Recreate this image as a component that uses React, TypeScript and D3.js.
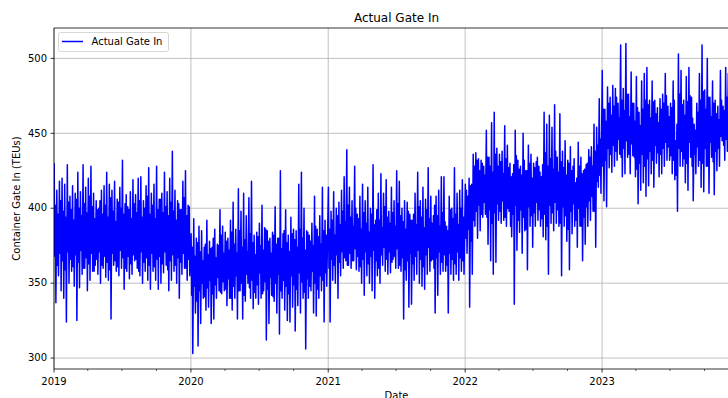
import React from 'react';
import * as d3 from 'd3';

// weekly values, one array per year (52 weeks each):
// spike high, spike low and the second-tier high / low inside the dense band
const years = [2019, 2020, 2021, 2022, 2023];

const highs2019 = [430, 412, 418, 420, 416, 429, 408, 415, 410, 424, 411, 429, 414, 420, 428, 410, 405, 400, 412, 415, 424, 416, 412, 418, 406, 414, 432, 403, 401, 411, 419, 409, 420, 421, 405, 415, 427, 410, 416, 428, 406, 410, 424, 411, 420, 438, 412, 405, 399, 418, 425, 402];
const lows2019 = [337, 355, 345, 340, 324, 350, 358, 348, 325, 347, 356, 360, 345, 352, 358, 362, 356, 350, 360, 354, 352, 326, 362, 358, 355, 360, 346, 358, 353, 356, 365, 360, 355, 350, 358, 352, 346, 358, 352, 346, 350, 357, 362, 345, 352, 358, 350, 340, 356, 360, 352, 355];
const midHi2019 = [402, 396, 405, 398, 394, 404, 399, 392, 406, 400, 395, 403, 397, 408, 401, 393, 399, 405, 396, 402, 394, 407, 398, 391, 404, 400, 396, 409, 399, 393, 403, 397, 405, 394, 400, 408, 396, 402, 393, 399, 406, 397, 401, 395, 404, 398, 392, 403, 399, 407, 395, 401];
const midLo2019 = [368, 362, 370, 365, 359, 371, 366, 361, 369, 364, 372, 360, 367, 363, 370, 358, 366, 371, 362, 368, 364, 359, 370, 365, 361, 372, 367, 360, 368, 363, 369, 366, 358, 371, 364, 367, 362, 370, 361, 366, 368, 363, 371, 359, 365, 369, 362, 367, 364, 370, 360, 366];

const highs2020 = [383, 393, 380, 388, 385, 374, 392, 378, 374, 386, 376, 399, 388, 384, 380, 392, 404, 386, 413, 398, 410, 395, 407, 418, 382, 384, 390, 402, 387, 385, 380, 384, 401, 380, 425, 383, 399, 382, 394, 386, 385, 416, 424, 400, 385, 382, 390, 408, 386, 395, 414, 392];
const lows2020 = [303, 330, 308, 323, 340, 332, 334, 323, 326, 340, 345, 343, 345, 335, 340, 332, 340, 326, 345, 326, 338, 350, 340, 333, 340, 336, 340, 345, 312, 323, 342, 338, 330, 316, 340, 332, 325, 324, 334, 318, 335, 330, 340, 306, 340, 345, 330, 328, 340, 345, 324, 348];
const midHi2020 = [374, 368, 377, 371, 365, 376, 369, 373, 380, 367, 375, 382, 370, 378, 372, 384, 376, 370, 385, 374, 379, 371, 383, 377, 369, 381, 375, 372, 386, 378, 370, 382, 376, 380, 373, 385, 377, 371, 383, 379, 374, 386, 380, 372, 384, 378, 375, 388, 381, 376, 385, 382];
const midLo2020 = [342, 348, 338, 345, 350, 341, 347, 352, 343, 349, 354, 344, 351, 346, 353, 340, 348, 355, 345, 350, 342, 356, 347, 352, 344, 349, 357, 343, 351, 346, 354, 341, 350, 356, 345, 352, 348, 343, 355, 349, 346, 357, 351, 344, 353, 348, 358, 350, 346, 355, 352, 357];

const highs2021 = [414, 398, 411, 400, 404, 412, 421, 439, 414, 405, 428, 396, 408, 416, 405, 414, 400, 429, 392, 410, 423, 410, 419, 398, 414, 405, 425, 418, 400, 405, 404, 396, 392, 410, 424, 405, 414, 406, 427, 408, 395, 408, 412, 421, 421, 388, 408, 400, 427, 410, 412, 419];
const lows2021 = [324, 352, 350, 340, 355, 360, 365, 362, 360, 365, 359, 358, 350, 342, 355, 350, 345, 340, 355, 350, 362, 358, 356, 357, 366, 360, 360, 358, 326, 352, 334, 336, 352, 356, 350, 348, 346, 356, 358, 366, 330, 342, 356, 358, 358, 330, 356, 352, 356, 352, 358, 356];
const midHi2021 = [386, 392, 382, 395, 389, 398, 391, 402, 394, 388, 400, 393, 386, 397, 390, 384, 396, 389, 399, 392, 387, 401, 394, 390, 397, 388, 403, 395, 391, 386, 398, 392, 396, 389, 401, 394, 387, 399, 393, 390, 402, 395, 388, 397, 391, 385, 399, 393, 396, 389, 400, 394];
const midLo2021 = [360, 366, 362, 369, 364, 371, 367, 362, 370, 365, 373, 368, 361, 366, 371, 363, 368, 372, 365, 360, 369, 374, 366, 371, 364, 368, 373, 362, 367, 359, 365, 370, 363, 368, 372, 366, 361, 369, 374, 365, 360, 367, 371, 364, 369, 362, 370, 366, 363, 371, 367, 365];

const highs2022 = [416, 408, 415, 436, 437, 433, 432, 428, 452, 434, 457, 464, 440, 436, 438, 455, 442, 430, 423, 452, 432, 428, 450, 425, 442, 436, 430, 431, 428, 421, 464, 456, 462, 454, 469, 434, 463, 438, 445, 432, 441, 428, 417, 444, 434, 425, 429, 439, 441, 456, 454, 473];
const lows2022 = [370, 334, 356, 388, 380, 385, 394, 396, 376, 365, 356, 364, 392, 390, 392, 388, 398, 381, 336, 372, 384, 370, 385, 359, 388, 374, 388, 392, 388, 381, 379, 356, 390, 385, 390, 388, 355, 388, 378, 359, 383, 388, 374, 388, 365, 376, 388, 392, 398, 374, 414, 410];
const midHi2022 = [412, 420, 416, 428, 432, 425, 430, 422, 434, 428, 424, 436, 428, 431, 423, 433, 427, 421, 429, 435, 426, 422, 432, 425, 430, 420, 427, 434, 424, 429, 437, 428, 433, 426, 438, 424, 431, 427, 422, 430, 425, 433, 420, 428, 423, 426, 430, 434, 428, 438, 442, 446];
const midLo2022 = [380, 386, 378, 392, 398, 402, 396, 404, 394, 399, 390, 397, 403, 398, 405, 394, 400, 388, 396, 402, 392, 399, 394, 386, 401, 395, 397, 404, 399, 393, 396, 388, 402, 397, 404, 399, 390, 401, 395, 386, 398, 403, 392, 400, 388, 394, 401, 405, 408, 398, 418, 422];

const highs2023 = [492, 466, 481, 474, 482, 480, 470, 509, 480, 510, 476, 491, 470, 488, 464, 485, 490, 494, 472, 485, 472, 467, 473, 476, 490, 468, 470, 485, 445, 503, 492, 472, 488, 494, 474, 456, 470, 490, 509, 479, 500, 474, 485, 472, 468, 492, 468, 494, 490, 481, 486, 478];
const lows2023 = [405, 401, 427, 424, 428, 432, 436, 421, 423, 434, 423, 435, 421, 403, 412, 417, 408, 415, 423, 414, 430, 421, 423, 428, 432, 432, 423, 419, 398, 428, 428, 417, 412, 434, 405, 423, 428, 414, 411, 428, 410, 434, 409, 425, 428, 445, 432, 438, 432, 440, 436, 438];
const midHi2023 = [466, 458, 470, 462, 468, 474, 460, 472, 465, 476, 461, 470, 458, 467, 455, 466, 472, 469, 460, 471, 463, 457, 466, 470, 475, 461, 467, 472, 456, 476, 469, 462, 471, 475, 460, 452, 464, 472, 478, 466, 474, 461, 470, 463, 459, 472, 465, 474, 470, 466, 471, 463];
const midLo2023 = [428, 432, 440, 436, 442, 438, 446, 434, 440, 445, 436, 443, 434, 426, 430, 436, 428, 433, 438, 432, 442, 437, 436, 440, 444, 441, 435, 432, 422, 440, 438, 433, 430, 444, 428, 436, 441, 432, 430, 440, 428, 444, 431, 438, 440, 448, 442, 446, 440, 448, 444, 446];

const highsByYear = [highs2019, highs2020, highs2021, highs2022, highs2023];
const lowsByYear = [lows2019, lows2020, lows2021, lows2022, lows2023];
const midHiByYear = [midHi2019, midHi2020, midHi2021, midHi2022, midHi2023];
const midLoByYear = [midLo2019, midLo2020, midLo2021, midLo2022, midLo2023];

const yTicks = [300, 350, 400, 450, 500];
const title = 'Actual Gate In';
const xLabel = 'Date';
const yLabel = 'Container Gate In (TEUs)';
const seriesName = 'Actual Gate In';

const W = 728;
const H = 398;
const left = 54;
const right = 739;
const top = 28;
const bottom = 369;
const font = '"DejaVu Sans", sans-serif';

type Pt = { date: Date; v: number };

const App = () => {
  const points: Pt[] = [];
  years.forEach((yr, i) => {
    highsByYear[i].forEach((hi, w) => {
      const day = w * 7;
      points.push({ date: new Date(Date.UTC(yr, 0, 1 + day, 12)), v: hi });
      points.push({ date: new Date(Date.UTC(yr, 0, 3 + day)), v: midLoByYear[i][w] });
      points.push({ date: new Date(Date.UTC(yr, 0, 4 + day, 12)), v: midHiByYear[i][w] });
      points.push({ date: new Date(Date.UTC(yr, 0, 6 + day)), v: lowsByYear[i][w] });
    });
  });

  const x = d3.scaleUtc()
    .domain([new Date(Date.UTC(2019, 0, 1)), new Date(Date.UTC(2024, 0, 1))])
    .range([left, right]);
  const y = d3.scaleLinear().domain([292.7, 520.3]).range([bottom, top]);

  const line = d3.line<Pt>()
    .x(d => x(d.date))
    .y(d => y(d.v));

  const yearTicks = x.ticks(d3.utcYear.every(1)!).filter(d => d.getUTCFullYear() < 2024);
  const quarterTicks = x.ticks(d3.utcMonth.every(3)!).filter(d => d.getUTCMonth() !== 0);

  return (
    <svg width={W} height={H} style={{ position: 'fixed', left: 0, top: 0, background: '#fff' }} fontFamily={font}>
      <defs>
        <clipPath id="plot">
          <rect x={left} y={top} width={right - left} height={bottom - top} />
        </clipPath>
      </defs>

      {/* grid */}
      <g stroke="#b0b0b0" strokeWidth={0.8}>
        {yTicks.map(t => (
          <line key={t} x1={left} x2={right} y1={y(t)} y2={y(t)} />
        ))}
        {yearTicks.map(d => (
          <line key={+d} x1={x(d)} x2={x(d)} y1={top} y2={bottom} />
        ))}
      </g>

      <path d={line(points) || ''} fill="none" stroke="#0000ff" strokeWidth={1.5}
        strokeLinejoin="round" clipPath="url(#plot)" />

      {/* spines */}
      <g stroke="#000" strokeWidth={0.8} fill="none">
        <line x1={left} x2={left} y1={top} y2={bottom} />
        <line x1={left} x2={right} y1={top} y2={top} />
        <line x1={left} x2={right} y1={bottom} y2={bottom} />
        <line x1={right} x2={right} y1={top} y2={bottom} />
      </g>

      {/* y axis */}
      {yTicks.map(t => (
        <g key={t}>
          <line x1={left - 3.5} x2={left} y1={y(t)} y2={y(t)} stroke="#000" strokeWidth={0.8} />
          <text x={left - 7} y={y(t)} dy="0.32em" textAnchor="end" fontSize={10}>{t}</text>
        </g>
      ))}

      {/* x axis */}
      {yearTicks.map(d => (
        <g key={+d}>
          <line x1={x(d)} x2={x(d)} y1={bottom} y2={bottom + 3.5} stroke="#000" strokeWidth={0.8} />
          <text x={x(d)} y={bottom + 16} textAnchor="middle" fontSize={10}>{d.getUTCFullYear()}</text>
        </g>
      ))}
      {quarterTicks.map(d => (
        <line key={+d} x1={x(d)} x2={x(d)} y1={bottom} y2={bottom + 2} stroke="#000" strokeWidth={0.6} />
      ))}

      <text x={(left + right) / 2} y={22} textAnchor="middle" fontSize={12}>{title}</text>
      <text x={(left + right) / 2} y={399} textAnchor="middle" fontSize={10}>{xLabel}</text>
      <text transform={`translate(20,${(top + bottom) / 2}) rotate(-90)`} textAnchor="middle" fontSize={10}>{yLabel}</text>

      {/* legend */}
      <g>
        <rect x={58.5} y={32.5} width={110} height={19} rx={2} fill="#fff" fillOpacity={0.8} stroke="#cccccc" strokeWidth={0.8} />
        <line x1={62} x2={83} y1={41.5} y2={41.5} stroke="#0000ff" strokeWidth={1.5} />
        <text x={91.5} y={45.2} fontSize={10}>{seriesName}</text>
      </g>
    </svg>
  );
};

export default App;
